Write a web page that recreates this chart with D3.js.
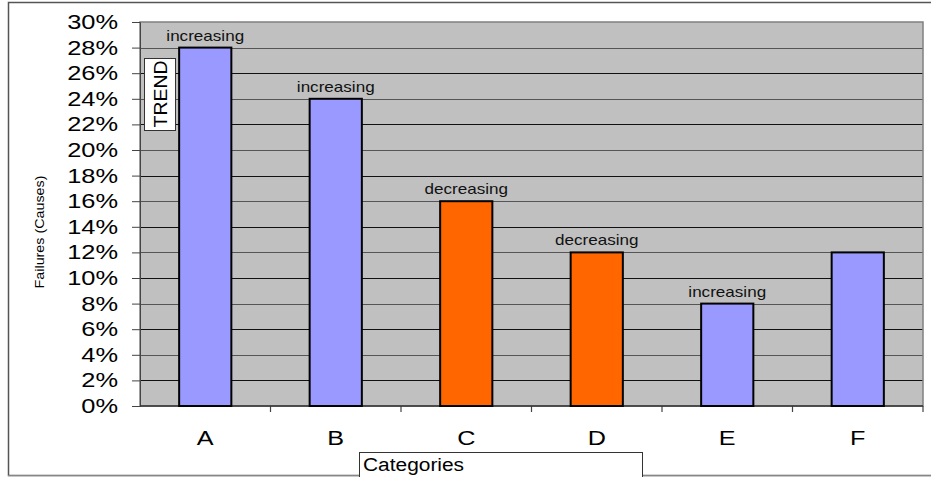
<!DOCTYPE html>
<html>
<head>
<meta charset="utf-8">
<script src="https://cdn.jsdelivr.net/npm/d3@7"></script>
<style>
  body { margin: 0; background: white; }
  svg { display: block; font-family: "Liberation Sans", Arial, sans-serif; }
</style>
</head>
<body>
<div id="vis"></div>
<script>
const WIDTH = 931;
const HEIGHT = 477;

// datos del grafico
const categorias = ["A", "B", "C", "D", "E", "F"];
const valores = [28, 24, 16, 12, 8, 12];
const tendencias = ["increasing", "increasing", "decreasing", "decreasing", "increasing", ""];
const ticksY = [0, 2, 4, 6, 8, 10, 12, 14, 16, 18, 20, 22, 24, 26, 28, 30];

const COLORES = { increasing: "#9999FF", decreasing: "#FF6600", "": "#9999FF" };

const margin = { left: 140, right: 8, top: 22, bottom: 71 };

const SVG = d3.select("#vis").append("svg")
  .attr("width", WIDTH).attr("height", HEIGHT);

// marco exterior
SVG.append("rect")
  .attr("x", 8.5).attr("y", 2.5)
  .attr("width", WIDTH).attr("height", 473)
  .attr("fill", "white").attr("stroke", "#555").attr("stroke-width", 1.5);
SVG.append("line")
  .attr("x1", 8).attr("x2", WIDTH).attr("y1", 476).attr("y2", 476)
  .attr("stroke", "#bbb");

const x = d3.scaleBand()
  .domain(categorias)
  .range([margin.left, WIDTH - margin.right])
  .paddingInner(0.6).paddingOuter(0.3);

const xGrid = d3.scaleBand()
  .domain(categorias)
  .range([margin.left, WIDTH - margin.right]);

const y = d3.scaleLinear()
  .domain([0, 30])
  .range([HEIGHT - margin.bottom, margin.top]);

// fondo del area
SVG.append("rect")
  .attr("x", margin.left).attr("y", margin.top)
  .attr("width", WIDTH - margin.right - margin.left)
  .attr("height", y(0) - y(30))
  .attr("fill", "#C0C0C0");

// grilla
SVG.append("g")
  .selectAll("line")
  .data(ticksY.filter(d => d > 0 && d < 30))
  .join("line")
  .attr("x1", margin.left).attr("x2", WIDTH - margin.right)
  .attr("y1", d => Math.round(y(d)) + 0.5).attr("y2", d => Math.round(y(d)) + 0.5)
  .attr("stroke", (d, i) => i % 2 == 0 ? "#111" : "#555")
  .attr("stroke-width", 1.2);

// borde del area
SVG.append("rect")
  .attr("x", margin.left).attr("y", margin.top)
  .attr("width", WIDTH - margin.right - margin.left)
  .attr("height", y(0) - y(30))
  .attr("fill", "none").attr("stroke", "#808080").attr("stroke-width", 1.5);

// eje y (texto ensanchado como en el original)
const ejeY = d3.axisLeft(y)
  .tickValues(ticksY)
  .tickFormat(d => d + "%")
  .tickSize(8).tickPadding(0);

SVG.append("g")
  .attr("transform", `translate(${margin.left},0)`)
  .call(ejeY)
  .call(g => g.select(".domain").attr("stroke", "#444"))
  .call(g => g.selectAll(".tick line").attr("stroke", "#444"))
  .call(g => g.selectAll("text")
    .attr("x", 0)
    .attr("transform", "translate(-22,0) scale(1.27,1)")
    .attr("font-size", 20).attr("fill", "black")
    .attr("font-family", "Liberation Sans, Arial, sans-serif"));

// eje x
const ejeX = d3.axisBottom(x).tickSize(0).tickPadding(0);
SVG.append("g")
  .attr("transform", `translate(0,${y(0)})`)
  .call(ejeX)
  .call(g => g.select(".domain").remove())
  .call(g => g.selectAll("text")
    .attr("y", 0).attr("dy", 0)
    .attr("transform", "translate(0,39) scale(1.2,1)")
    .attr("font-size", 21).attr("fill", "black")
    .attr("font-family", "Liberation Sans, Arial, sans-serif"));

// ticks entre categorias
SVG.append("g")
  .selectAll("line")
  .data(categorias)
  .join("line")
  .attr("x1", d => xGrid(d) + xGrid.bandwidth())
  .attr("x2", d => xGrid(d) + xGrid.bandwidth())
  .attr("y1", y(0)).attr("y2", y(0) + 6)
  .attr("stroke", "#444").attr("stroke-width", 1.2);
SVG.append("line")
  .attr("x1", margin.left).attr("x2", WIDTH - margin.right)
  .attr("y1", y(0)).attr("y2", y(0))
  .attr("stroke", "#333").attr("stroke-width", 1.5);

const datos = categorias.map((c, i) => ({ cat: c, valor: valores[i], tend: tendencias[i] }));

// barras
SVG.append("g")
  .selectAll("rect")
  .data(datos)
  .join("rect")
  .attr("x", d => x(d.cat))
  .attr("y", d => y(d.valor))
  .attr("width", x.bandwidth())
  .attr("height", d => y(0) - y(d.valor))
  .attr("fill", d => COLORES[d.tend])
  .attr("stroke", "black").attr("stroke-width", 2);

// etiquetas de tendencia
SVG.append("g")
  .selectAll("text")
  .data(datos.filter(d => d.tend != ""))
  .join("text")
  .attr("transform", d => `translate(${x(d.cat) + x.bandwidth() / 2},${y(d.valor) - 7}) scale(1.22,1)`)
  .attr("text-anchor", "middle")
  .attr("font-size", 14)
  .attr("fill", "#111")
  .text(d => d.tend);

// caja TREND
SVG.append("rect")
  .attr("x", 144.5).attr("y", 58.5).attr("width", 31).attr("height", 72)
  .attr("fill", "white").attr("stroke", "#333").attr("stroke-width", 1);
SVG.append("text")
  .attr("transform", "translate(166.5,94) rotate(-90) scale(1.08,1)")
  .attr("text-anchor", "middle")
  .attr("font-size", 18)
  .text("TREND");

// titulo eje y
SVG.append("text")
  .attr("transform", "translate(44,232) rotate(-90) scale(1.1,1)")
  .attr("text-anchor", "middle")
  .attr("font-size", 13)
  .text("Failures (Causes)");

// caja titulo eje x
SVG.append("rect")
  .attr("x", 359.5).attr("y", 452.5).attr("width", 283).attr("height", 30)
  .attr("fill", "white").attr("stroke", "#333").attr("stroke-width", 1);
SVG.append("text")
  .attr("transform", "translate(363,471) scale(1.1,1)")
  .attr("font-size", 19)
  .text("Categories");
</script>
</body>
</html>
